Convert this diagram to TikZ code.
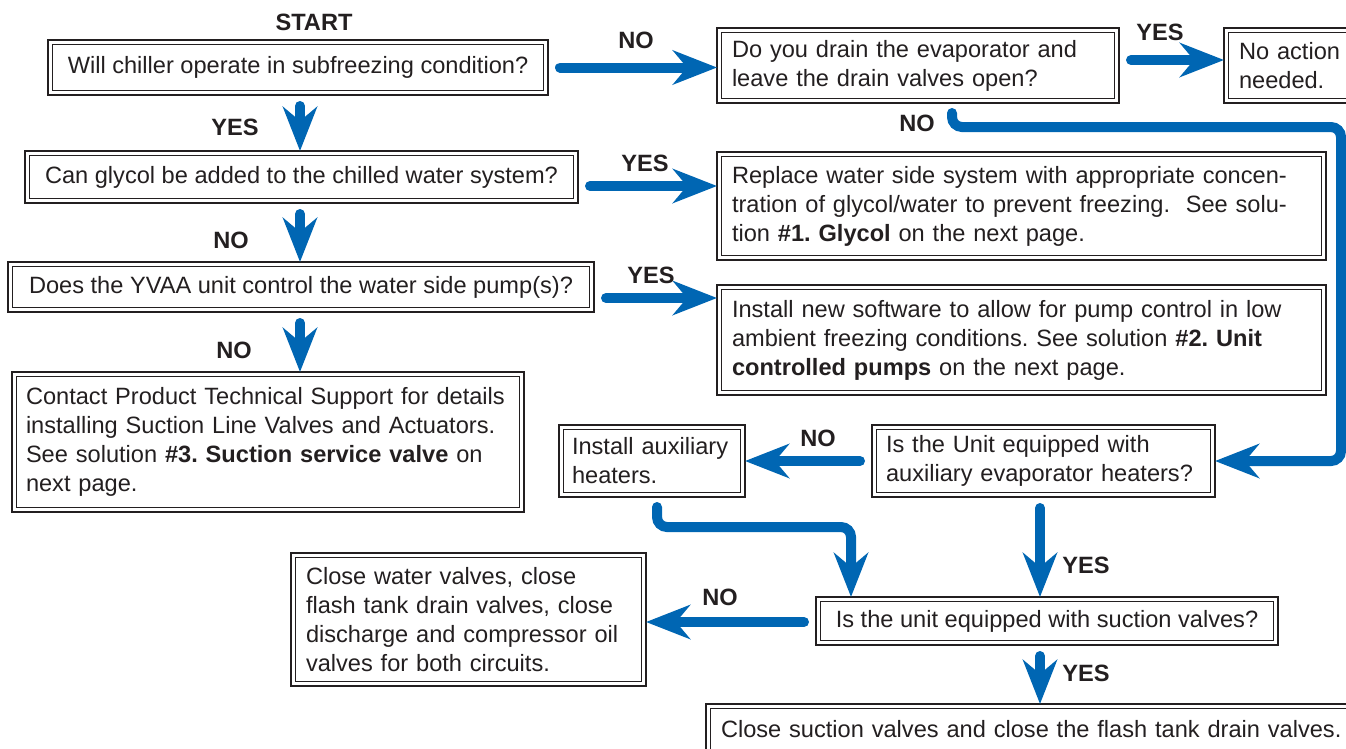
\documentclass[tikz,border=0pt]{standalone}
\usepackage{fontspec}
\setmainfont{Liberation Sans}
\usetikzlibrary{arrows.meta,calc}
\definecolor{ablue}{RGB}{0,102,179}
\definecolor{ink}{RGB}{35,31,32}
\frenchspacing
\begin{document}
\begin{tikzpicture}[x=1pt,y=-1pt,
  box/.style={draw=ink, line width=2.6pt, outer sep=0pt, inner xsep=15pt, inner ysep=0pt, text=ink, font=\fontsize{23.6}{29}\selectfont},
  cbox/.style={box, align=center},
  lbox/.style={box, align=left},
  innerline/.style={draw=ink, line width=0.8pt},
  arr/.style={draw=ablue, line width=10pt, line cap=round, -{Stealth[length=44pt,width=34pt,inset=14pt]}},
  lbl/.style={font=\bfseries\fontsize{23.6}{29}\selectfont, text=ink, inner sep=0pt},
]
\useasboundingbox (0,0) rectangle (1346,748);

% boxes
\node[cbox, minimum width=500pt, minimum height=55pt] (q1) at (298,67.5) {Will chiller operate in subfreezing condition?};
\node[lbox, text width=372pt, minimum height=75pt, inner xsep=15pt] (q2) at (918,65.5) {Do you drain the evaporator and\\leave the drain valves open?};
\node[lbox, text width=136pt, minimum height=75pt] (na) at (1307,65.5) {No action\\needed.};
\node[cbox, minimum width=553pt, minimum height=52pt] (q3) at (301.5,177) {Can glycol be added to the chilled water system?};
\node[lbox, text width=579pt, minimum height=108pt] (rep) at (1021.5,206) {Replace water side system with appropriate concen-\\tration of glycol/water to prevent freezing.\ \ See solu-\\tion \textbf{\#1. Glycol} on the next page.};
\node[cbox, minimum width=586pt, minimum height=50pt] (q4) at (301,287) {Does the YVAA unit control the water side pump(s)?};
\node[lbox, text width=579pt, minimum height=110pt] (sw) at (1021.5,340) {Install new software to allow for pump control in low\\ambient freezing conditions. See solution \textbf{\#2. Unit}\\\textbf{controlled pumps} on the next page.};
\node[lbox, text width=484pt, minimum height=140pt, inner xsep=14pt] (ct) at (268,442) {Contact Product Technical Support for details\\installing Suction Line Valves and Actuators.\\See solution \textbf{\#3. Suction service valve} on\\next page.};
\node[lbox, text width=160pt, minimum height=72pt, inner xsep=13pt] (ia) at (652,461) {Install auxiliary\\heaters.};
\node[lbox, text width=315pt, minimum height=72pt, inner xsep=14pt] (q5) at (1043.5,461) {Is the Unit equipped with\\auxiliary evaporator heaters?};
\node[lbox, text width=325pt, minimum height=133pt] (cw) at (468.5,619.5) {Close water valves, close\\flash tank drain valves, close\\discharge and compressor oil\\valves for both circuits.};
\node[cbox, minimum width=462pt, minimum height=48pt] (q6) at (1047,621) {Is the unit equipped with suction valves?};
\node[lbox, text width=644pt, minimum height=50pt] (fin) at (1043,729) {Close suction valves and close the flash tank drain valves.};

\foreach \n in {q1,q2,na,q3,rep,q4,sw,ct,ia,q5,cw,q6,fin}
  \draw[innerline] ($(\n.south west)+(4.5pt,4.5pt)$) rectangle ($(\n.north east)+(-4.5pt,-4.5pt)$);

% helper coordinates
\coordinate (vx) at (300,0);
\coordinate (vy) at (1040,0);
\coordinate (j1) at (851,527);
\coordinate (j2) at (1341,127);

% connectors
\draw[arr, shorten <=12pt] (q1.east) -- (q1.east -| q2.west);
\draw[arr, shorten <=12pt] ($(q2.east)+(0,-5.5)$) coordinate (a2) -- (a2 -| na.west);
\draw[arr, rounded corners=10pt, shorten <=10pt] ($(q2.south)+(34,0)$) |- (j2) |- (q5.east);
\draw[arr, shorten <=11pt] (vx |- q1.south) -- (vx |- q3.north);
\draw[arr, shorten <=12pt] ($(q3.east)+(0,9)$) coordinate (a3) -- (a3 -| rep.west);
\draw[arr, shorten <=11pt] (vx |- q3.south) -- (vx |- q4.north);
\draw[arr, shorten <=12pt] ($(q4.east)+(0,11)$) coordinate (a4) -- (a4 -| sw.west);
\draw[arr, shorten <=11pt] (vx |- q4.south) -- (vx |- ct.north);
\draw[arr, shorten <=12pt] (q5.west) -- (q5.west -| ia.east);
\draw[arr, rounded corners=10pt, shorten <=10pt] ($(ia.south)+(5,0)$) |- (j1) -- (j1 |- q6.north);
\draw[arr, shorten <=11pt] (vy |- q5.south) -- (vy |- q6.north);
\draw[arr, shorten <=12pt] ($(q6.west)+(0,1)$) coordinate (a6) -- (a6 -| cw.east);
\draw[arr, shorten <=11pt] (vy |- q6.south) -- (vy |- fin.north);

% labels
\node[lbl] (lstart) at (314,22) {START};
\node[lbl] (l1) at (636,40) {NO};
\node[lbl] (l2) at (1160,32) {YES};
\node[lbl] (l3) at (917,123) {NO};
\node[lbl] (l4) at (235,127) {YES};
\node[lbl] (l5) at (645,163) {YES};
\node[lbl] (l6) at (231,240) {NO};
\node[lbl] (l7) at (651,275) {YES};
\node[lbl] (l8) at (234,350) {NO};
\node[lbl] (l9) at (818,438) {NO};
\node[lbl] (l10) at (1086,565) {YES};
\node[lbl] (l11) at (720,597) {NO};
\node[lbl] (l12) at (1086,673) {YES};
\end{tikzpicture}
\end{document}
